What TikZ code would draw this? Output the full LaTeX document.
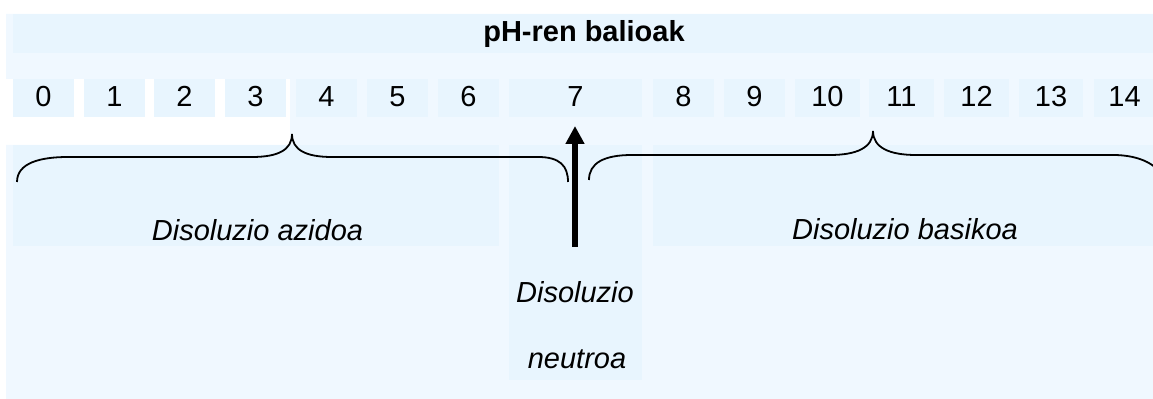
\documentclass[tikz,border=0pt]{standalone}
\usepackage{fontspec}
\setmainfont{Liberation Sans}
\usepackage{tikz}
\usetikzlibrary{arrows.meta}

\definecolor{panelblue}{RGB}{240,248,255}
\definecolor{cellblue}{RGB}{232,245,254}

\begin{document}
\begin{tikzpicture}[x=0.5pt, y=-0.5pt,
        every node/.style={inner sep=0pt, font=\fontsize{14.5}{17}\selectfont},
        numtext/.style={anchor=base},
        regiontext/.style={anchor=base, font=\fontsize{14.5}{17}\selectfont\itshape},
        bracepath/.style={line width=0.9pt}]
        \clip (0,0) rectangle (1153,399);
        \useasboundingbox (0,0) rectangle (1153,399);

        % Draw the background panel (white notch under 0-3)
        \fill[white] (0,0) rectangle (1153,399);
        \fill[panelblue] (6,14) -- (1153,14) -- (1153,399) -- (6,399) -- (6,145)
            -- (290,145) -- (290,79) -- (6,79) -- cycle;

        % Draw the title row
        \fill[cellblue] (13,14) rectangle (1153,53);
        \node[anchor=base, font=\fontsize{14.5}{17}\selectfont\bfseries] (title) at (584,41.5) {pH-ren balioak};

        % Draw the pH value cells
        \foreach \l/\r/\v in {13/74/0, 84/145/1, 154/215/2, 225/286/3, 296/357/4,
                367/428/5, 438/499/6, 509/642/7, 653/714/8, 724/785/9,
                795/860/10, 869/934/11, 944/1009/12, 1019/1083/13, 1094/1155/14} {
            \fill[cellblue] (\l,79) rectangle (\r,117);
            \node[numtext] (n\v) at ({(\l+\r)/2},107) {\v};
        }

        % Draw the lower blocks
        \fill[cellblue] (13,145) rectangle (499,246);
        \fill[cellblue] (509,145) rectangle (642,380);
        \fill[cellblue] (653,145) rectangle (1153,246);

        % Draw the braces
        \draw[bracepath] (17,182) .. controls (17,163) and (40,157) .. (68,157) -- (252,157)
            .. controls (278,157) and (292,150) .. (292,134)
            .. controls (292,150) and (306,157) .. (332,157) -- (538,157)
            .. controls (560,157) and (568,166) .. (568,182);
        \draw[bracepath] (589,180) .. controls (589,163) and (604,155) .. (632,155) -- (830,155)
            .. controls (856,155) and (873,148) .. (873,131)
            .. controls (873,148) and (890,155) .. (916,155) -- (1113,155)
            .. controls (1140,155) and (1160,165) .. (1165,182);

        % Label the regions
        \node[regiontext] (acid) at (257.5,241) {Disoluzio azidoa};
        \node[regiontext] (base) at (905,240) {Disoluzio basikoa};
        \node[regiontext] (neutral1) at (575,303) {Disoluzio};
        \node[regiontext] (neutral2) at (577,369) {neutroa};

        % Draw the arrow pointing to 7
        \coordinate (arrowfoot) at (575,247);
        \coordinate (arrowtip) at (575,126);
        \draw[line width=3pt, -{Triangle[length=9pt, width=9pt]}] (arrowfoot) -- (arrowtip);

    \end{tikzpicture}
\end{document}
